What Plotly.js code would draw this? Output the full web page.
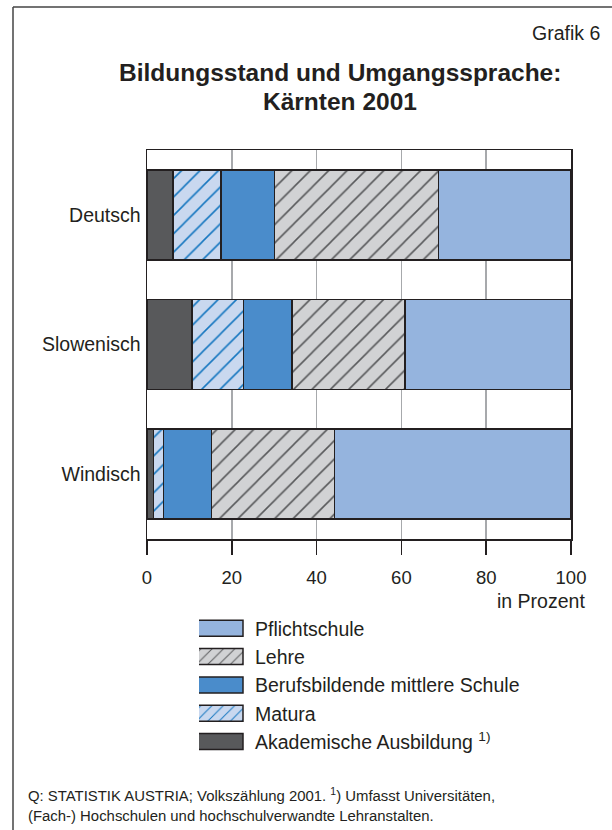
<!DOCTYPE html>
<html>
<head>
<meta charset="utf-8">
<script src="https://cdn.plot.ly/plotly-3.0.1.min.js"></script>
<style>
html,body{margin:0;padding:0;background:#fff;}
#chart{width:612px;height:830px;}
</style>
</head>
<body>
<div id="chart"></div>
<script>
// Data (percent shares)
const categories = ["Deutsch", "Slowenisch", "Windisch"];
const akademisch = [6.1, 10.6, 1.5];
const matura = [11.4, 12.1, 2.4];
const bms = [12.6, 11.5, 11.3];
const lehre = [38.6, 26.6, 29.0];
const pflichtschule = [31.3, 39.2, 55.8];
const seriesNames = ["Akademische Ausbildung <sup>1)</sup>", "Matura", "Berufsbildende mittlere Schule", "Lehre", "Pflichtschule"];
const xTicks = [0, 20, 40, 60, 80, 100];

const ink = "#231f20";
const font = "Liberation Sans, Arial, Helvetica, sans-serif";

function bar(name, values, fill, pattern) {
  const m = {color: fill, line: {color: ink, width: 1.5}};
  if (pattern) m.pattern = pattern;
  return {type: "bar", orientation: "h", name: name, x: values, y: categories,
          marker: m, width: 0.694, hoverinfo: "x+name"};
}

const traces = [
  bar(seriesNames[0], akademisch, "#58595b"),
  bar(seriesNames[1], matura, "#c9d8ef", {shape: "/", bgcolor: "#c9d8ef", fgcolor: "#1677c0", size: 13, solidity: 0.12}),
  bar(seriesNames[2], bms, "#4a8ccb"),
  bar(seriesNames[3], lehre, "#d1d2d4", {shape: "/", bgcolor: "#d1d2d4", fgcolor: "#58595b", size: 13, solidity: 0.12}),
  bar(seriesNames[4], pflichtschule, "#95b4de")
];

// pixel -> paper helpers (plot area 147..571 x 150..539)
const L = 147, R = 571, T = 150, B = 539;
const px = p => (p - L) / (R - L);
const py = p => (B - p) / (B - T);

const layout = {
  width: 612, height: 830,
  margin: {l: L, r: 612 - R, t: T, b: 830 - B, pad: 0},
  paper_bgcolor: "#fff", plot_bgcolor: "#fff",
  font: {family: font, color: ink, size: 19.5},
  barmode: "stack",
  showlegend: true,
  legend: {
    x: px(199), y: py(609), xanchor: "left", yanchor: "top",
    traceorder: "reversed", font: {size: 19.5, color: ink},
    bgcolor: "rgba(0,0,0,0)", itemwidth: 46, itemclick: false
  },
  xaxis: {
    range: [0, 100], tickvals: xTicks, ticktext: xTicks.map(String),
    showgrid: true, gridcolor: "#a7a9ac", gridwidth: 1.5,
    showline: true, linecolor: ink, linewidth: 1.5, mirror: true,
    ticks: "outside", ticklen: 14, tickwidth: 1.5, tickcolor: ink,
    tickfont: {size: 18.5, color: ink}, zeroline: false, fixedrange: true,
    ticklabelstandoff: 7
  },
  yaxis: {
    autorange: false, range: [2.5, -0.5], type: "category",
    showgrid: false, showline: true, linecolor: ink, linewidth: 1.5, mirror: true,
    ticks: "", tickfont: {size: 19.5, color: ink}, ticklabelstandoff: 1, fixedrange: true
  },
  annotations: [
    {xref: "paper", yref: "paper", x: px(601.5), y: py(33), xanchor: "right", yanchor: "middle",
     text: "Grafik 6", showarrow: false, font: {size: 19.5, color: ink}},
    {xref: "paper", yref: "paper", x: px(340), y: py(73), xanchor: "center", yanchor: "middle",
     text: "<b>Bildungsstand und Umgangssprache:</b>", showarrow: false,
     font: {size: 24.5, color: ink}},
    {xref: "paper", yref: "paper", x: px(340), y: py(101), xanchor: "center", yanchor: "middle",
     text: "<b>Kärnten 2001</b>", showarrow: false,
     font: {size: 24.5, color: ink}},
    {xref: "paper", yref: "paper", x: px(587), y: py(601), xanchor: "right", yanchor: "middle",
     text: "in Prozent", showarrow: false, font: {size: 19.5, color: ink}},
    {xref: "paper", yref: "paper", x: px(26), y: py(805), xanchor: "left", yanchor: "middle", align: "left",
     text: "Q: STATISTIK AUSTRIA; Volkszählung 2001. <sup>1</sup>) Umfasst Universitäten,<br>(Fach-) Hochschulen und hochschulverwandte Lehranstalten.",
     showarrow: false, font: {size: 14.9, color: ink}}
  ],
  shapes: [
    {type: "line", xref: "paper", yref: "paper", x0: px(13), x1: px(612), y0: py(7), y1: py(7), line: {color: "#444", width: 1.5}},
    {type: "line", xref: "paper", yref: "paper", x0: px(13), x1: px(13), y0: py(7), y1: py(830), line: {color: "#444", width: 1.5}}
  ]
};

Plotly.newPlot("chart", traces, layout, {displayModeBar: false, staticPlot: true}).then(gd => {
  // enlarge legend swatches to the reference's wide boxes (shifted left so the text gap matches)
  gd.querySelectorAll(".legend .legendpoints path").forEach(p => {
    p.setAttribute("d", "M16,8H-30V-8H16Z");
  });
});
</script>
</body>
</html>
